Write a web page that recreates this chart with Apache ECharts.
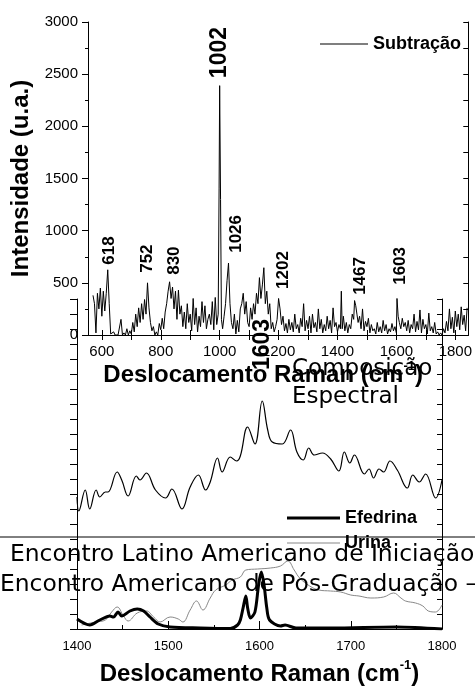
<!DOCTYPE html>
<html><head><meta charset="utf-8">
<script src="https://cdn.jsdelivr.net/npm/echarts@6/dist/echarts.min.js"></script>
<style>html,body{margin:0;padding:0;background:#fff}#c{width:475px;height:688px}</style>
</head><body><div id="c"></div>
<script>
// Top chart: "Subtração" spectrum [shift cm-1, intensity u.a.]
const subtracao = [
[570,380],[575,300],[580,20],[585,400],[590,250],[595,450],[600,180],[605,420],[610,230],[615,400],
[620,625],[625,300],[630,10],[635,0],[640,30],[645,0],[650,10],[655,0],[660,0],[665,150],
[670,0],[675,20],[680,0],[685,60],[690,0],[695,40],[700,10],[705,120],[710,30],[715,200],
[720,80],[725,260],[730,120],[735,300],[740,150],[745,340],[750,200],[755,500],[760,260],[765,120],
[770,40],[775,80],[780,0],[785,30],[790,0],[795,110],[800,50],[805,160],[810,60],[815,220],
[820,300],[825,420],[830,510],[835,350],[840,460],[845,250],[850,420],[855,150],[860,430],[865,200],
[870,280],[875,80],[880,220],[885,60],[890,300],[895,120],[900,200],[905,40],[910,350],[915,100],
[920,260],[925,30],[930,180],[935,80],[940,320],[945,120],[950,280],[955,60],[960,150],[965,200],
[970,100],[975,320],[980,50],[985,360],[990,100],[995,200],[998,1400],[1000,2390],[1003,1300],[1006,150],
[1010,60],[1015,180],[1020,300],[1025,520],[1030,690],[1035,300],[1040,120],[1045,60],[1050,200],[1055,10],
[1060,140],[1065,30],[1070,250],[1075,300],[1080,400],[1085,200],[1090,320],[1095,120],[1100,80],[1105,260],
[1110,150],[1115,300],[1120,200],[1125,400],[1130,300],[1135,550],[1140,350],[1145,480],[1150,645],[1155,300],
[1160,420],[1165,200],[1170,300],[1175,60],[1180,120],[1185,30],[1190,80],[1195,150],[1200,350],[1205,250],
[1210,100],[1215,180],[1220,40],[1225,110],[1230,20],[1235,150],[1240,50],[1245,120],[1250,30],[1255,200],
[1260,60],[1265,100],[1270,20],[1275,160],[1280,80],[1285,300],[1290,40],[1295,140],[1300,60],[1305,180],
[1310,20],[1315,200],[1320,70],[1325,120],[1330,30],[1335,250],[1340,60],[1345,150],[1350,20],[1355,100],
[1360,40],[1365,180],[1370,60],[1375,140],[1380,20],[1385,260],[1390,80],[1395,120],[1400,30],[1405,100],
[1410,60],[1413,420],[1416,60],[1420,180],[1425,40],[1430,120],[1435,20],[1440,100],[1445,60],[1450,200],
[1455,150],[1458,330],[1462,280],[1466,200],[1470,120],[1475,180],[1480,60],[1485,250],[1490,40],[1495,130],
[1500,80],[1505,160],[1510,20],[1515,100],[1520,40],[1525,60],[1530,10],[1535,120],[1540,30],[1545,80],
[1550,20],[1555,140],[1560,40],[1565,100],[1570,10],[1575,60],[1580,30],[1585,110],[1590,40],[1595,80],
[1600,20],[1602,350],[1606,180],[1610,120],[1615,60],[1620,160],[1625,80],[1630,120],[1635,40],[1640,140],
[1645,20],[1650,100],[1655,60],[1660,200],[1665,30],[1670,130],[1675,50],[1680,240],[1685,20],[1690,150],
[1695,60],[1700,100],[1705,10],[1710,210],[1715,40],[1720,80],[1725,20],[1730,120],[1735,10],[1740,30],
[1745,0],[1750,20],[1755,0],[1760,60],[1765,20],[1770,130],[1775,40],[1780,250],[1785,60],[1790,170],
[1795,20],[1800,230],[1805,80],[1810,200],[1815,50],[1820,270],[1825,100],[1830,190],[1835,40],[1840,260]
];
const topPeakNames = ['1002','618','752','830','1026','1202','1467','1603'];
const topXTicks = [600,700,800,900,1000,1100,1200,1300,1400,1500,1600,1700,1800];
const topXLabels = [600,800,1000,1200,1400,1600,1800];

// Middle chart: "Composição Espectral" (arbitrary units)
const composicao = [
[1400,132],[1402,118],[1409,139],[1414,120],[1421,139],[1425,132],[1431,137],[1434,137],[1444,157],[1449,149],
[1456,133],[1465,153],[1469,149],[1476,156],[1486,139],[1497,131],[1504,140],[1515,120],[1524,142],[1533,154],
[1541,139],[1546,147],[1554,171],[1559,157],[1568,172],[1575,168],[1579,173],[1587,202],[1595,185],[1603,228],
[1609,199],[1614,187],[1625,185],[1634,199],[1641,177],[1648,169],[1654,181],[1660,174],[1669,176],[1678,170],
[1687,158],[1693,177],[1699,166],[1704,174],[1715,155],[1720,160],[1725,151],[1731,160],[1736,157],[1743,168],
[1751,159],[1762,141],[1768,154],[1775,147],[1782,155],[1793,131],[1800,149]
];
// Bottom chart: Efedrina and Urina (arbitrary units)
const efedrina = [
[1400,10],[1414,4],[1425,9],[1436,13],[1440,12],[1445,17],[1449,13],[1458,18],[1466,20],[1473,18],
[1480,12],[1489,5],[1502,2],[1535,1],[1568,0.5],[1576,4],[1579,9],[1582,21],[1585,33],[1587,21],
[1590,11],[1595,17],[1599,44],[1602,57],[1605,44],[1608,21],[1611,9],[1623,3],[1628,4],[1640,1],
[1679,1],[1750,2],[1800,0]
];
const urina = [
[1405,4],[1420,7],[1431,9],[1438,17],[1444,22],[1451,13],[1456,8],[1466,16],[1476,18],[1484,12],
[1491,7],[1502,12],[1511,10],[1516,7],[1524,19],[1531,28],[1538,19],[1546,31],[1552,39],[1563,44],
[1570,49],[1579,52],[1585,59],[1598,60],[1612,61],[1623,63],[1631,68],[1638,59],[1644,51],[1655,43],
[1665,39],[1678,38],[1689,37],[1700,34],[1709,33],[1722,31],[1736,32],[1747,36],[1755,31],[1760,28],
[1771,26],[1779,23],[1785,18],[1793,17],[1800,24]
];
const headerLines = ['Encontro Latino Americano de Iniciação', 'Encontro Americano de Pós-Graduação –'];

const AR = 'Liberation Sans', DV = 'DejaVu Sans';
const plain = v => String(v);
const axLine = {show:true, lineStyle:{color:'#000', width:1}};
const chart = echarts.init(document.getElementById('c'), null, {renderer:'canvas'});
const xTitleRich = {
  a:{fontFamily:AR, fontWeight:'bold', fontSize:24, color:'#000'},
  s:{fontFamily:AR, fontWeight:'bold', fontSize:13, color:'#000', verticalAlign:'top', lineHeight:30}
};
const peakPos = [[1000,2462],[627,673],[755,596],[845,577],[1057,788],[1215,442],[1477,385],[1612,481]];
chart.setOption({
  animation:false,
  backgroundColor:'#fff',
  grid:[
    {left:88, top:22, width:384, height:313, show:false},
    {left:77, top:299, width:365, height:330, show:false}
  ],
  legend:[
    {data:['Subtração'], left:320, top:34, padding:0, itemWidth:48, itemHeight:1, icon:'rect', selectedMode:false,
     textStyle:{fontFamily:AR, fontWeight:'bold', fontSize:18, color:'#000', lineHeight:20}},
    {data:['Efedrina'], left:287, top:508, padding:0, itemWidth:53, itemHeight:3, icon:'rect', selectedMode:false,
     textStyle:{fontFamily:AR, fontWeight:'bold', fontSize:18, color:'#000', lineHeight:20}},
    {data:['Urina'], left:287, top:533, padding:0, itemWidth:53, itemHeight:1, icon:'rect', selectedMode:false,
     textStyle:{fontFamily:AR, fontWeight:'bold', fontSize:18, color:'#000', lineHeight:20}}
  ],
  xAxis:[
    {gridIndex:0, type:'value', min:553, max:1844, position:'bottom', axisLine:axLine,
     axisTick:{show:true, customValues:topXTicks, length:5, lineStyle:{color:'#000'}},
     axisLabel:{customValues:topXLabels, formatter:plain, fontFamily:AR, fontSize:15, color:'#000', margin:9},
     splitLine:{show:false},
     name:'{a|Deslocamento Raman (cm}{s|-1}{a|)}', nameLocation:'middle', nameGap:24,
     nameTextStyle:{padding:[0,30,0,0], rich:xTitleRich}},
    {gridIndex:0, type:'value', min:553, max:1844, position:'top', axisLine:axLine,
     axisTick:{show:true, customValues:topXTicks, length:5, lineStyle:{color:'#000'}},
     axisLabel:{show:false}, splitLine:{show:false}},
    {gridIndex:1, type:'value', min:1400, max:1800, interval:100, position:'bottom', axisLine:axLine,
     axisTick:{show:true, inside:true, length:5, lineStyle:{color:'#000'}},
     axisLabel:{formatter:plain, fontFamily:AR, fontSize:13, color:'#000', margin:11},
     splitLine:{show:false},
     name:'{a|Deslocamento Raman (cm}{s|-1}{a|)}', nameLocation:'middle', nameGap:30,
     nameTextStyle:{rich:xTitleRich}},
    {gridIndex:1, type:'value', min:1400, max:1800, interval:100, position:'top', axisLine:axLine,
     axisTick:{show:true, length:8, lineStyle:{color:'#000'}},
     minorTick:{show:true, splitNumber:2, length:4, lineStyle:{color:'#000'}},
     axisLabel:{show:false}, splitLine:{show:false}}
  ],
  yAxis:[
    {gridIndex:0, type:'value', min:0, max:3000, interval:500, position:'left', axisLine:axLine,
     axisTick:{show:true, length:6, lineStyle:{color:'#000'}},
     minorTick:{show:true, splitNumber:2, length:3, lineStyle:{color:'#000'}},
     axisLabel:{formatter:plain, fontFamily:AR, fontSize:15, color:'#000', margin:10},
     splitLine:{show:false},
     name:'Intensidade (u.a.)', nameLocation:'middle', nameGap:51,
     nameTextStyle:{fontFamily:AR, fontWeight:'bold', fontSize:24, color:'#000'}},
    {gridIndex:0, type:'value', min:0, max:3000, interval:250, position:'right', axisLine:axLine,
     axisTick:{show:true, inside:true, length:5, lineStyle:{color:'#000'}},
     axisLabel:{show:false}, splitLine:{show:false}},
    {gridIndex:1, type:'value', min:0, max:330, interval:15, position:'left', axisLine:axLine,
     axisTick:{show:true, length:7, lineStyle:{color:'#000'}},
     axisLabel:{show:false}, splitLine:{show:false}},
    {gridIndex:1, type:'value', min:0, max:330, interval:15, position:'right', axisLine:axLine,
     axisTick:{show:true, inside:true, length:5, lineStyle:{color:'#000'}},
     axisLabel:{show:false}, splitLine:{show:false}}
  ],
  series:[
    {name:'Subtração', type:'line', xAxisIndex:0, yAxisIndex:0, data:subtracao, showSymbol:false,
     lineStyle:{color:'#000', width:1}, itemStyle:{color:'#000'}, clip:true, z:3,
     markPoint:{symbol:'circle', symbolSize:0, silent:true,
       label:{show:true, position:'inside', rotate:90, align:'left', verticalAlign:'middle',
              fontFamily:AR, fontWeight:'bold', fontSize:17, color:'#000', formatter:p=>p.name},
       data: topPeakNames.map((n,i)=>({name:n, coord:peakPos[i], label: i===0?{fontSize:23}:{}}))}},
    {name:'Composição', type:'line', xAxisIndex:2, yAxisIndex:2, data:composicao, showSymbol:false, smooth:0.4,
     lineStyle:{color:'#000', width:1.2}, itemStyle:{color:'#000'},
     markPoint:{symbol:'circle', symbolSize:0, silent:true,
       label:{show:true, position:'inside', rotate:90, align:'left', verticalAlign:'middle',
              fontFamily:AR, fontWeight:'bold', fontSize:23, color:'#000', formatter:p=>p.name},
       data:[{name:'1603', coord:[1603,259]}]}},
    {name:'Urina', type:'line', xAxisIndex:2, yAxisIndex:2, data:urina, showSymbol:false, smooth:0.4,
     lineStyle:{color:'#888', width:1}, itemStyle:{color:'#888'}},
    {name:'Efedrina', type:'line', xAxisIndex:2, yAxisIndex:2, data:efedrina, showSymbol:false, smooth:0.3,
     lineStyle:{color:'#000', width:3}, itemStyle:{color:'#000'}}
  ],
  graphic:[
    {type:'line', shape:{x1:0, y1:537, x2:475, y2:537}, style:{stroke:'#000', lineWidth:1}, z:10},
    {type:'text', x:292, y:369, z:10, style:{text:'Composição', fontFamily:DV, fontSize:23, fill:'#000', verticalAlign:'middle'}},
    {type:'text', x:292, y:397, z:10, style:{text:'Espectral', fontFamily:DV, fontSize:23, fill:'#000', verticalAlign:'middle'}},
    {type:'text', x:10, y:555, z:10, style:{text:headerLines[0], fontFamily:DV, fontSize:23.4, fill:'#000', verticalAlign:'middle'}},
    {type:'text', x:0, y:585, z:10, style:{text:headerLines[1], fontFamily:DV, fontSize:23.4, fill:'#000', verticalAlign:'middle'}}
  ]
});
</script></body></html>
